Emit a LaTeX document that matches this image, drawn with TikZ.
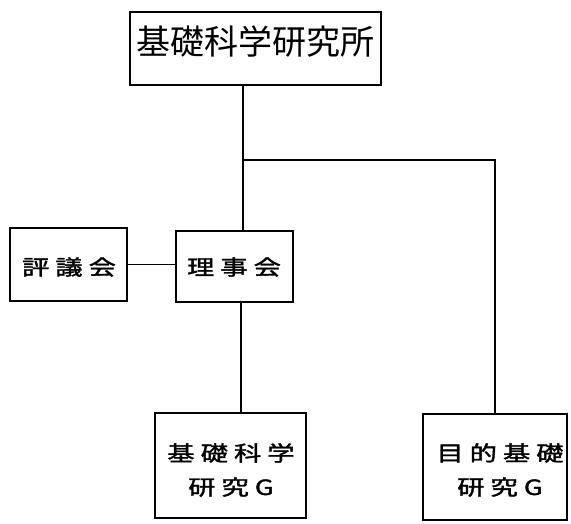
\documentclass[tikz,border=0pt]{standalone}
\usepackage{fontspec}
\usepackage{graphicx}
\newfontfamily\cjk{Noto Sans CJK JP}
\newfontfamily\cjkm[FakeBold=1.5]{Noto Sans CJK JP}
\newcommand\wc[1]{\scalebox{1.3}[1]{#1}}
\newcommand\gp{\hspace{6pt}}
\begin{document}
\begin{tikzpicture}[x=1pt,y=-1pt,
  box/.style={draw, line width=1.5pt, inner sep=0pt},
  conn/.style={line width=1.4pt},
  small/.style={font=\cjkm\fontsize{21}{34}\selectfont, align=center, inner sep=0pt}]
\useasboundingbox (0,0) rectangle (571,524);
% boxes
\node[box, minimum width=251pt, minimum height=73pt] (inst) at (255.5,48.5) {};
\node[font=\cjk\fontsize{34}{34}\selectfont, inner sep=0pt] (instt) at (255.5,42) {基礎科学研究所};
\node[box, minimum width=117pt, minimum height=73pt] (hyo) at (68.5,264.5) {};
\node[small] (hyot) at (69,267) {\wc{評}\gp\wc{議}\gp\wc{会}};
\node[box, minimum width=117pt, minimum height=71pt] (rij) at (234.5,266.5) {};
\node[small] (rijt) at (234,267) {\wc{理}\gp\wc{事}\gp\wc{会}};
\node[box, minimum width=151pt, minimum height=105pt] (kiso) at (230.5,465.5) {};
\node[small] (kisot) at (231,470) {\wc{基}\gp\wc{礎}\gp\wc{科}\gp\wc{学}\\\wc{研}\gp\wc{究}\gp\wc{G}};
\node[box, minimum width=144pt, minimum height=106pt] (mok) at (495,467) {};
\node[small] (mokt) at (500,470) {\wc{目}\gp\wc{的}\gp\wc{基}\gp\wc{礎}\\\wc{研}\gp\wc{究}\gp\wc{G}};
% connectors
\coordinate (br) at (243,160);
\draw[conn] (inst.south -| br) -- (rij.north -| br);
\draw[conn] (br) -| (mok.north);
\draw[conn] (hyo.east) -- (rij.west |- hyo.east);
\draw[conn] (rij.south -| 241,0) -- (kiso.north -| 241,0);
\end{tikzpicture}
\end{document}
